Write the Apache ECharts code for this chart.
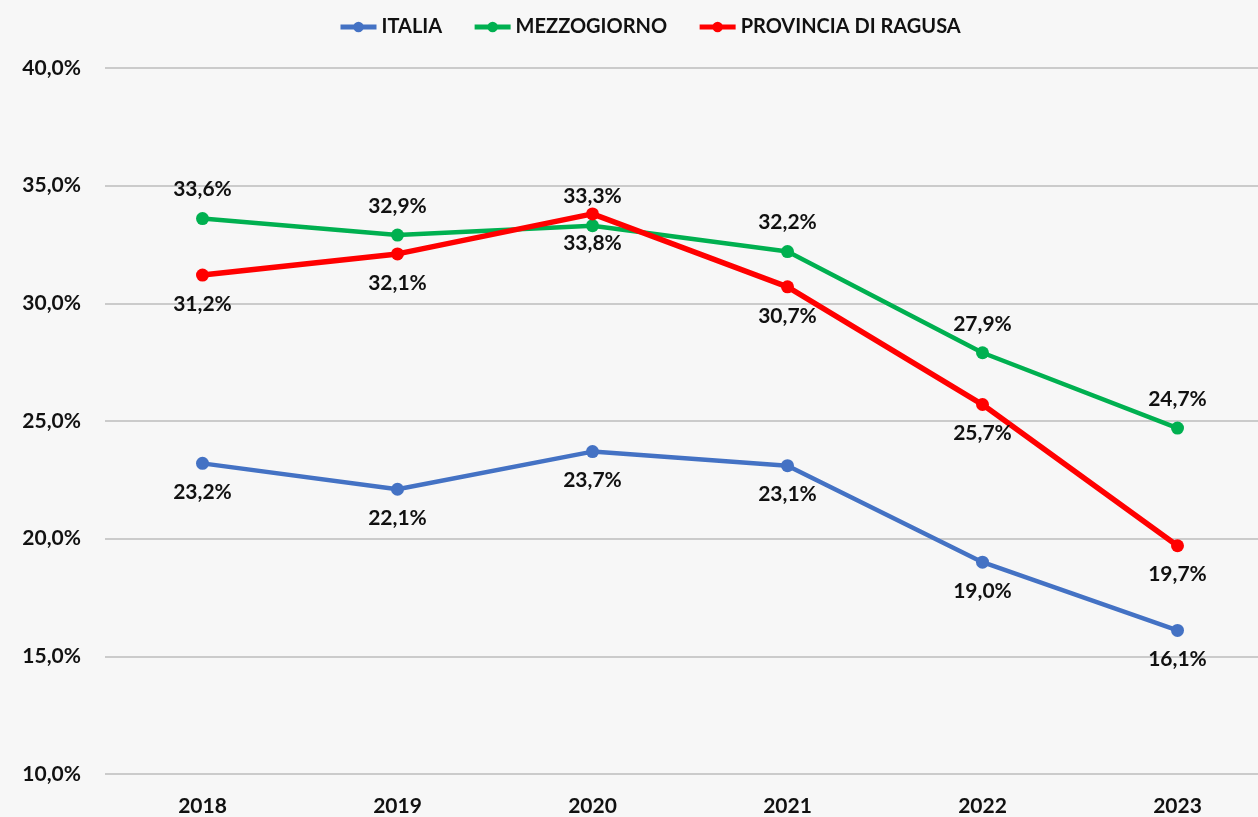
<!DOCTYPE html>
<html>
<head>
<meta charset="utf-8">
<script src="https://cdn.jsdelivr.net/npm/echarts@6/dist/echarts.min.js"></script>
<style>
  html, body { margin: 0; padding: 0; background: #f7f7f7; overflow: hidden; }
  /* plot area runs a little past the right edge, as in the source */
  #chart { width: 1275px; height: 817px; }
</style>
</head>
<body>
<div id="chart"></div>
<script>
const years = ['2018', '2019', '2020', '2021', '2022', '2023']
const italia = [23.2, 22.1, 23.7, 23.1, 19.0, 16.1]
const mezzogiorno = [33.6, 32.9, 33.3, 32.2, 27.9, 24.7]
const ragusa = [31.2, 32.1, 33.8, 30.7, 25.7, 19.7]

const fmt = v => v.toFixed(1).replace('.', ',') + '%'
const font = 'Lato, "Open Sans", sans-serif'

const makeSeries = (name, data, color, width, pos) => ({
  name,
  type: 'line',
  data,
  symbol: 'circle',
  symbolSize: 13,
  lineStyle: { color, width },
  itemStyle: { color },
  label: {
    show: true,
    position: pos,
    distance: 12,
    formatter: p => fmt(p.value),
    color: '#111',
    fontFamily: font,
    fontWeight: 'bold',
    fontSize: 21
  },
  z: name === 'PROVINCIA DI RAGUSA' ? 4 : 3
})

const chart = echarts.init(document.getElementById('chart'))
chart.setOption({
  backgroundColor: '#f7f7f7',
  animation: false,
  legend: {
    top: 12,
    left: 333,
    itemWidth: 36,
    itemHeight: 13,
    itemGap: 30,
    lineStyle: { width: 5 },
    textStyle: { fontFamily: font, fontWeight: 'bold', fontSize: 20, color: '#111' },
    data: ['ITALIA', 'MEZZOGIORNO', 'PROVINCIA DI RAGUSA']
  },
  grid: { left: 105, top: 68, right: 0, bottom: 42, containLabel: false },
  xAxis: {
    type: 'category',
    data: years,
    boundaryGap: true,
    axisLine: { show: false },
    axisTick: { show: false },
    axisLabel: { margin: 22, fontFamily: font, fontWeight: 'bold', fontSize: 21, color: '#111' }
  },
  yAxis: {
    type: 'value',
    min: 10,
    max: 40,
    interval: 5,
    axisLine: { show: false },
    axisTick: { show: false },
    splitLine: { lineStyle: { color: '#bdbdbd', width: 1.5 } },
    axisLabel: { margin: 24, formatter: v => fmt(v), fontFamily: font, fontWeight: 'bold', fontSize: 21, color: '#111' }
  },
  series: [
    makeSeries('ITALIA', italia, '#4472C4', 4.5, 'bottom'),
    makeSeries('MEZZOGIORNO', mezzogiorno, '#00B050', 4.5, 'top'),
    makeSeries('PROVINCIA DI RAGUSA', ragusa, '#FF0000', 5.5, 'bottom')
  ]
})
</script>
</body>
</html>
